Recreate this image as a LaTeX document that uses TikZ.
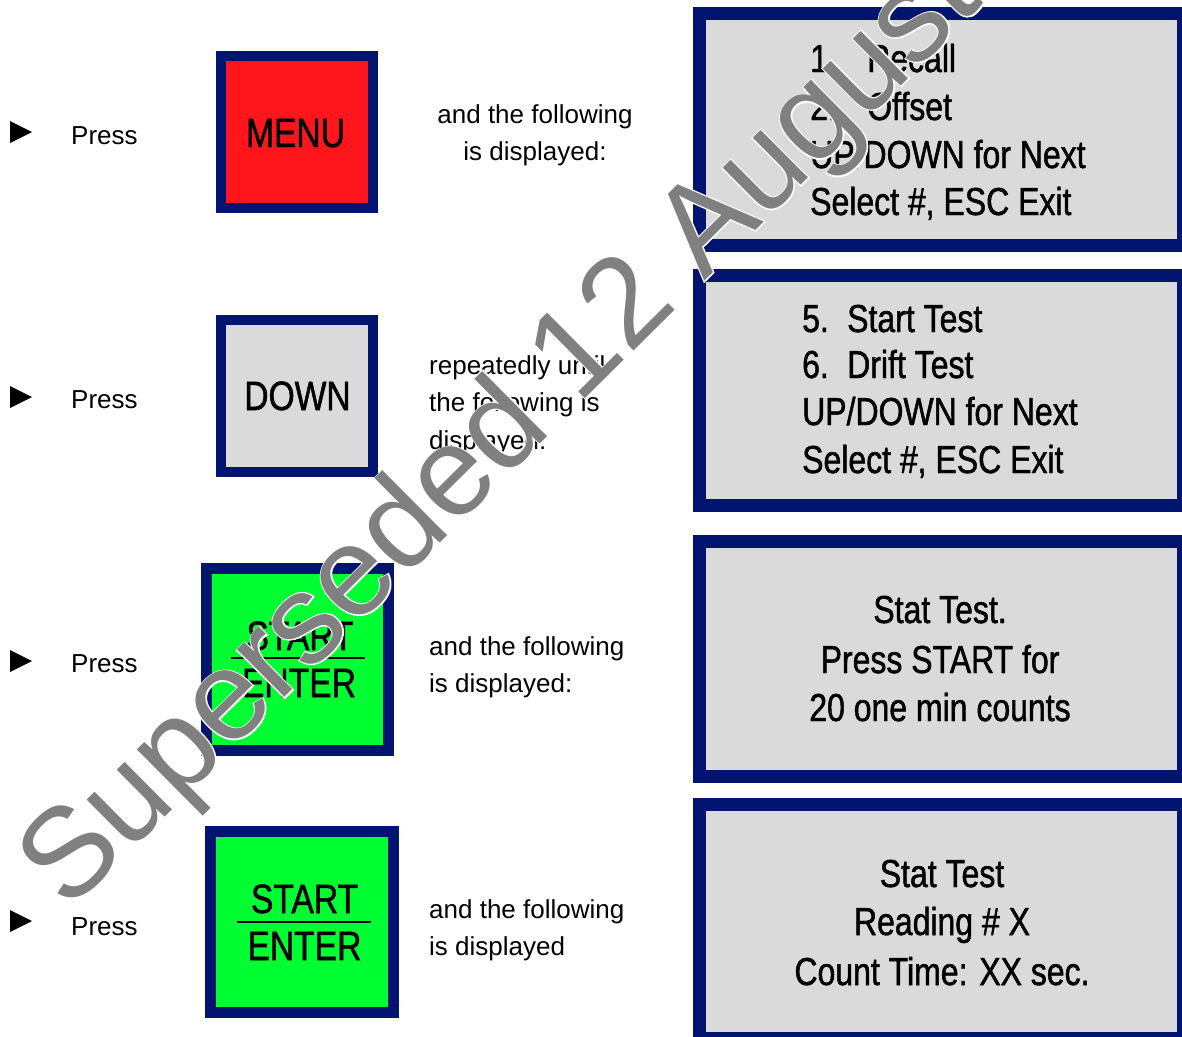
\documentclass[tikz,border=0pt]{standalone}
\usepackage{fontspec}
\setmainfont{Liberation Sans}
\newfontfamily\narrowfont[FakeStretch=0.82,FakeBold=1.2]{Liberation Sans}
\newfontfamily\wmoutline[FakeBold=2]{Liberation Sans}
\definecolor{navy}{RGB}{0,20,112}
\definecolor{keyred}{RGB}{255,22,28}
\definecolor{keygreen}{RGB}{0,255,50}
\definecolor{keygray}{RGB}{218,218,218}
\definecolor{lcdgray}{RGB}{218,218,218}
\definecolor{wmgray}{RGB}{128,128,128}
\tikzset{
  keybox/.style={draw=navy, line width=10pt, inner sep=0pt, minimum width=152pt, minimum height=152pt},
  bigkey/.style={draw=navy, line width=11pt, inner sep=0pt, fill=keygreen},
  lcdbox/.style={draw=navy, fill=lcdgray, line width=13pt, inner sep=0pt, minimum width=484pt},
  bodytxt/.style={font=\fontsize{26}{26}\selectfont, inner sep=0pt},
  lcdtxt/.style={font=\narrowfont\fontsize{39}{39}\selectfont, inner sep=0pt},
  keytxt/.style={font=\narrowfont\fontsize{41}{41}\selectfont, inner sep=0pt},
  keyrule/.style={line width=2pt},
  bulletmark/.style={fill=black},
  wmtext/.style={rotate=44.8, anchor=base west, inner sep=0pt},
}
\begin{document}
\begin{tikzpicture}[x=1pt, y=-1pt]
\useasboundingbox (0,0) rectangle (1182,1036);
\clip (0,0) rectangle (1182,1036);

% bullets
\fill[bulletmark] (10,121) -- (32,132) -- (10,143) -- cycle;
\fill[bulletmark] (10,386) -- (32,397) -- (10,408) -- cycle;
\fill[bulletmark] (10,650) -- (32,661) -- (10,672) -- cycle;
\fill[bulletmark] (10,910) -- (32,921) -- (10,932) -- cycle;

% Press labels
\node[bodytxt, anchor=base west] (p1) at (71,144) {Press};
\node[bodytxt, anchor=base west] (p2) at (71,408) {Press};
\node[bodytxt, anchor=base west] (p3) at (71,672) {Press};
\node[bodytxt, anchor=base west] (p4) at (71,935) {Press};

% keys
\node[keybox, fill=keyred] (menu) at (297,131.5) {};
\node[keytxt, anchor=base] (menutxt) at (295.5,147) {MENU};
\node[keybox, fill=keygray] (down) at (297,396) {};
\node[keytxt, anchor=base] (downtxt) at (297.5,410) {DOWN};

\node[bigkey, minimum width=182pt, minimum height=182pt] (se1) at (297.5,659.5) {};
\node[keytxt, anchor=base] (se1start) at (300,650) {START};
\node[keytxt, anchor=base] (se1enter) at (299,697) {ENTER};
\coordinate (se1l) at (231,658);
\coordinate (se1r) at (365,658);
\draw[keyrule] (se1l) -- (se1r);

\node[bigkey, minimum width=183pt, minimum height=181pt] (se2) at (302,922) {};
\node[keytxt, anchor=base] (se2start) at (304.5,913) {START};
\node[keytxt, anchor=base] (se2enter) at (304.5,960) {ENTER};
\coordinate (se2l) at (237,922);
\coordinate (se2r) at (371,922);
\draw[keyrule] (se2l) -- (se2r);

% descriptions
\node[bodytxt, anchor=base] (d1a) at (535,123) {and the following};
\node[bodytxt, anchor=base] (d1b) at (535,160) {is displayed:};
\node[bodytxt, anchor=base west] (d2a) at (429,374) {repeatedly until};
\node[bodytxt, anchor=base west] (d2b) at (429,411) {the following is};
\node[bodytxt, anchor=base west] (d2c) at (429,449) {displayed:};
\node[bodytxt, anchor=base west] (d3a) at (429,655) {and the following};
\node[bodytxt, anchor=base west] (d3b) at (429,692) {is displayed:};
\node[bodytxt, anchor=base west] (d4a) at (429,918) {and the following};
\node[bodytxt, anchor=base west] (d4b) at (429,955) {is displayed};

% LCD displays
\node[lcdbox, minimum height=232pt] (lcd1) at (941.5,129.5) {};
\node[lcdbox, minimum height=230pt] (lcd2) at (941.5,390.5) {};
\node[lcdbox, minimum height=235pt] (lcd3) at (941.5,659) {};
\node[lcdbox, minimum height=234pt] (lcd4) at (941.5,921.5) {};

\node[lcdtxt, anchor=base west] (l1a) at (810,72) {\makebox[57pt][l]{1.}Recall};
\node[lcdtxt, anchor=base west] (l1b) at (810,120) {\makebox[57pt][l]{2.}Offset};
\node[lcdtxt, anchor=base west] (l1c) at (810,168) {UP/DOWN for Next};
\node[lcdtxt, anchor=base west] (l1d) at (810,215) {Select \#, ESC Exit};

\node[lcdtxt, anchor=base west] (l2a) at (802,332) {\makebox[45pt][l]{5.}Start Test};
\node[lcdtxt, anchor=base west] (l2b) at (802,378) {\makebox[45pt][l]{6.}Drift Test};
\node[lcdtxt, anchor=base west] (l2c) at (802,425) {UP/DOWN for Next};
\node[lcdtxt, anchor=base west] (l2d) at (802,473) {Select \#, ESC Exit};

\node[lcdtxt, anchor=base] (l3a) at (940,623) {Stat Test.};
\node[lcdtxt, anchor=base] (l3b) at (940,673) {Press START for};
\node[lcdtxt, anchor=base] (l3c) at (940,721) {20 one min counts};

\node[lcdtxt, anchor=base] (l4a) at (942,887) {Stat Test};
\node[lcdtxt, anchor=base] (l4b) at (942,935) {Reading \# X};
\node[lcdtxt, anchor=base] (l4c) at (942,985) {Count Time: XX sec.};

% watermark: white halo, then grey letters
\node[wmtext, font=\wmoutline\fontsize{127}{127}\selectfont, text=white] (wmhalo) at (68,913) {Superseded 12 August};
\node[wmtext, font=\fontsize{127}{127}\selectfont, text=wmgray] (wm) at (68,913) {Superseded 12 August};
\end{tikzpicture}
\end{document}
